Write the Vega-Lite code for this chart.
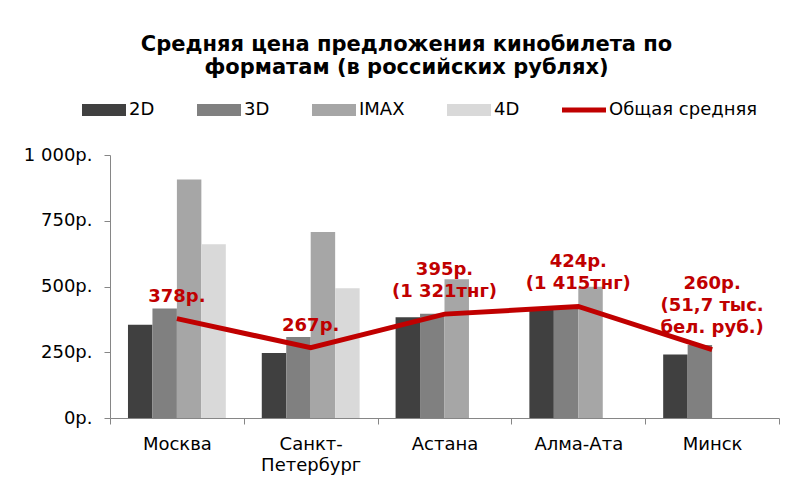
{
  "$schema": "https://vega.github.io/schema/vega-lite/v6.json",
  "autosize": {"type": "none"},
  "padding": {"left": 110, "top": 155, "right": 14, "bottom": 63},
  "width": 669,
  "height": 263,
  "background": "white",
  "config": {
    "view": {"stroke": null},
    "font": "DejaVu Sans",
    "axis": {"labelFont": "DejaVu Sans", "labelColor": "black"}
  },
  "title": {
    "text": ["Средняя цена предложения кинобилета по", "форматам (в российских рублях)"],
    "font": "DejaVu Sans",
    "fontSize": 21,
    "fontWeight": "bold",
    "color": "black",
    "anchor": "middle",
    "dx": -38,
    "offset": 10,
    "lineHeight": 23
  },
  "datasets": {
    "bars": [
      {"city": "Москва", "format": "2D", "price": 355},
      {"city": "Москва", "format": "3D", "price": 416},
      {"city": "Москва", "format": "IMAX", "price": 907},
      {"city": "Москва", "format": "4D", "price": 661},
      {"city": "Санкт-Петербург", "format": "2D", "price": 247},
      {"city": "Санкт-Петербург", "format": "3D", "price": 308},
      {"city": "Санкт-Петербург", "format": "IMAX", "price": 707},
      {"city": "Санкт-Петербург", "format": "4D", "price": 493},
      {"city": "Астана", "format": "2D", "price": 383},
      {"city": "Астана", "format": "3D", "price": 396},
      {"city": "Астана", "format": "IMAX", "price": 528},
      {"city": "Алма-Ата", "format": "2D", "price": 422},
      {"city": "Алма-Ата", "format": "3D", "price": 423},
      {"city": "Алма-Ата", "format": "IMAX", "price": 499},
      {"city": "Минск", "format": "2D", "price": 241},
      {"city": "Минск", "format": "3D", "price": 278}
    ],
    "avg": [
      {"city": "Москва", "avg": 378, "line1": "378р.", "line2": "", "line3": ""},
      {"city": "Санкт-Петербург", "avg": 267, "line1": "267р.", "line2": "", "line3": ""},
      {"city": "Астана", "avg": 395, "line1": "(1 321тнг)", "line2": "395р.", "line3": ""},
      {"city": "Алма-Ата", "avg": 424, "line1": "(1 415тнг)", "line2": "424р.", "line3": ""},
      {"city": "Минск", "avg": 260, "line1": "бел. руб.)", "line2": "(51,7 тыс.", "line3": "260р."}
    ]
  },
  "encoding": {
    "x": {
      "field": "city",
      "type": "nominal",
      "sort": ["Москва", "Санкт-Петербург", "Астана", "Алма-Ата", "Минск"],
      "scale": {"paddingInner": 0, "paddingOuter": 0},
      "axis": {
        "title": null,
        "labelAngle": 0,
        "labelExpr": "datum.label == 'Санкт-Петербург' ? ['Санкт-', 'Петербург'] : datum.label",
        "labelFontSize": 18,
        "labelLineHeight": 21,
        "labelPadding": 11,
        "tickBand": "extent",
        "tickSize": 6,
        "domainColor": "#868686",
        "tickColor": "#868686"
      }
    }
  },
  "layer": [
    {
      "data": {"name": "bars"},
      "mark": {"type": "bar"},
      "encoding": {
        "xOffset": {
          "field": "format",
          "type": "nominal",
          "scale": {"domain": ["2D", "3D", "IMAX", "4D"], "paddingInner": 0, "paddingOuter": 0.735}
        },
        "y": {
          "field": "price",
          "type": "quantitative",
          "scale": {"domain": [0, 1000], "nice": false},
          "axis": {
            "title": null,
            "grid": false,
            "values": [0, 250, 500, 750, 1000],
            "labelExpr": "replace(format(datum.value, ','), ',', ' ') + 'р.'",
            "labelFontSize": 18,
            "labelPadding": 12,
            "tickSize": 6,
            "domainColor": "#868686",
            "tickColor": "#868686"
          }
        },
        "color": {
          "field": "format",
          "type": "nominal",
          "scale": {
            "domain": ["2D", "3D", "IMAX", "4D", "Общая средняя"],
            "range": ["#404040", "#808080", "#a6a6a6", "#d9d9d9", "#c00000"]
          },
          "legend": {
            "orient": "none",
            "legendX": -28,
            "legendY": -67,
            "direction": "horizontal",
            "columns": 5,
            "gridAlign": "none",
            "columnPadding": 42,
            "title": null,
            "symbolSize": 1936,
            "symbolType": "M-1,-0.27h2v0.54h-2z",
            "labelFontSize": 18,
            "labelFont": "DejaVu Sans",
            "labelColor": "black",
            "labelOffset": 3,
            "encode": {
              "symbols": {
                "update": {
                  "shape": {"signal": "datum.value === 'Общая средняя' ? 'M-1,-0.11h2v0.22h-2z' : 'M-1,-0.27h2v0.54h-2z'"},
                  "fill": {"scale": "color", "field": "value"},
                  "stroke": {"value": "transparent"},
                  "strokeWidth": {"value": 0},
                  "opacity": {"value": 1}
                }
              }
            }
          }
        }
      }
    },
    {
      "data": {"name": "avg"},
      "mark": {"type": "line", "strokeWidth": 5},
      "encoding": {
        "y": {"field": "avg", "type": "quantitative"},
        "color": {"datum": "Общая средняя"}
      }
    },
    {
      "data": {"name": "avg"},
      "mark": {
        "type": "text",
        "color": "#c00000",
        "font": "DejaVu Sans",
        "fontSize": 18,
        "fontWeight": "bold",
        "baseline": "bottom",
        "align": "center",
        "dy": -13
      },
      "encoding": {
        "y": {"field": "avg", "type": "quantitative"},
        "text": {"field": "line1"}
      }
    },
    {
      "data": {"name": "avg"},
      "mark": {
        "type": "text",
        "color": "#c00000",
        "font": "DejaVu Sans",
        "fontSize": 18,
        "fontWeight": "bold",
        "baseline": "bottom",
        "align": "center",
        "dy": -35
      },
      "encoding": {
        "y": {"field": "avg", "type": "quantitative"},
        "text": {"field": "line2"}
      }
    },
    {
      "data": {"name": "avg"},
      "mark": {
        "type": "text",
        "color": "#c00000",
        "font": "DejaVu Sans",
        "fontSize": 18,
        "fontWeight": "bold",
        "baseline": "bottom",
        "align": "center",
        "dy": -57
      },
      "encoding": {
        "y": {"field": "avg", "type": "quantitative"},
        "text": {"field": "line3"}
      }
    }
  ]
}
